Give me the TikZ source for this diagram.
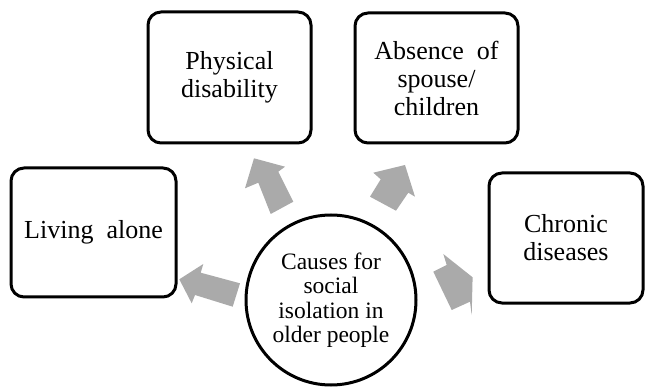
\documentclass[tikz,border=0pt]{standalone}
\usepackage{fontspec}
\setmainfont{Liberation Serif}
\definecolor{arrowgray}{RGB}{170,170,170}
\begin{document}
\begin{tikzpicture}[x=1pt,y=-1pt,
  causebox/.style={draw=black, line width=3pt, rounded corners=13pt, fill=white,
    align=center, inner sep=0pt,
    font=\fontsize{26}{28}\selectfont},
  hubcircle/.style={draw=black, line width=3pt, circle, fill=white,
    minimum size=170pt, inner sep=0pt, align=center,
    font=\fontsize{23.5}{24.5}\selectfont},
  blockarrow/.style={fill=arrowgray, draw=none}]
\useasboundingbox (0,0) rectangle (645,387);

% block arrows
\fill[blockarrow] (179.3,279.3) -- (203.3,264) -- (200.7,272.7) -- (240,283.3)
  -- (232.7,306.7) -- (195,295) -- (191.7,303.3) -- cycle;
\fill[blockarrow] (254,158.3) -- (285,166.7) -- (278.3,171.7) -- (293.3,201.7)
  -- (270.7,214) -- (258.3,182.7) -- (245,188.3) -- cycle;
\fill[blockarrow] (405,165) -- (415,196.7) -- (408.3,192.7) -- (396,210.7)
  -- (370,196.7) -- (380.7,179.3) -- (373.3,172.7) -- cycle;
\fill[blockarrow] (472.6,277.3) -- (471.7,315) -- (470,301.7) -- (451.7,310)
  -- (433.3,271.7) -- (446.7,265) -- (443.3,254) -- cycle;

% boxes
\node[causebox, minimum width=165pt, minimum height=129pt] (living) at (93.5,232.5) {Living\ \ alone};
\node[causebox, minimum width=163pt, minimum height=131pt] (physical) at (229.5,77.5) {Physical\\disability};
\node[causebox, minimum width=163pt, minimum height=130pt] (absence) at (436.5,78) {Absence\ \ of\\spouse/\\children};
\node[causebox, minimum width=154pt, minimum height=130pt] (chronic) at (566,238) {Chronic\\diseases};

% hub
\node[hubcircle] (hub) at (331,300) {Causes for\\social\\isolation in\\older people};
\end{tikzpicture}
\end{document}
